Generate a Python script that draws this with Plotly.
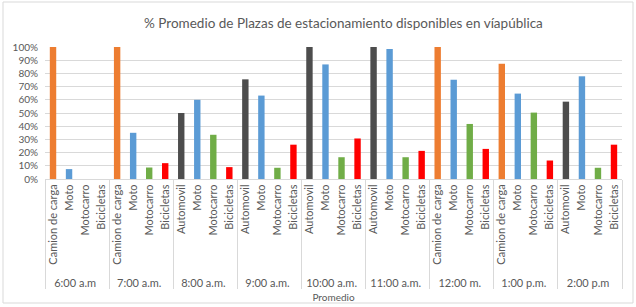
import plotly.graph_objects as go

times = ["6:00 a.m", "7:00 a.m.", "8:00 a.m.", "9:00 a.m.", "10:00 a.m.",
         "11:00 a.m.", "12:00 m.", "1:00 p.m.", "2:00 p.m"]

cats_6 = ["Camion de carga", "Moto", "Motocarro", "Bicicletas"]
cats_7 = ["Camion de carga", "Moto", "Motocarro", "Bicicletas"]
cats_8 = ["Automovil", "Moto", "Motocarro", "Bicicletas"]
cats_9 = ["Automovil", "Moto", "Motocarro", "Bicicletas"]
cats_10 = ["Automovil", "Moto", "Motocarro", "Bicicletas"]
cats_11 = ["Automovil", "Moto", "Motocarro", "Bicicletas"]
cats_12 = ["Camion de carga", "Moto", "Motocarro", "Bicicletas"]
cats_13 = ["Camion de carga", "Moto", "Motocarro", "Bicicletas"]
cats_14 = ["Automovil", "Moto", "Motocarro", "Bicicletas"]

vals_6 = [1.00, 0.075, 0.0, 0.0]
vals_7 = [1.00, 0.35, 0.087, 0.12]
vals_8 = [0.50, 0.60, 0.335, 0.09]
vals_9 = [0.755, 0.632, 0.085, 0.26]
vals_10 = [1.00, 0.868, 0.165, 0.307]
vals_11 = [1.00, 0.985, 0.165, 0.213]
vals_12 = [1.00, 0.752, 0.417, 0.228]
vals_13 = [0.873, 0.647, 0.503, 0.14]
vals_14 = [0.586, 0.778, 0.085, 0.26]

group_cats = [cats_6, cats_7, cats_8, cats_9, cats_10, cats_11, cats_12, cats_13, cats_14]
group_vals = [vals_6, vals_7, vals_8, vals_9, vals_10, vals_11, vals_12, vals_13, vals_14]

colors = {
    "Automovil": "#4d4d4d",
    "Camion de carga": "#ed7d31",
    "Moto": "#5b9bd5",
    "Motocarro": "#70ad47",
    "Bicicletas": "#ff0000",
}

# zero-width spaces keep each group's inner labels distinct so Plotly keeps
# the original within-group order (labels look identical)
x_outer, x_inner, y, bar_colors = [], [], [], []
for g, (t, cs, vs) in enumerate(zip(times, group_cats, group_vals)):
    for c, v in zip(cs, vs):
        x_outer.append(t)
        x_inner.append(c + "\u200b" * g)
        y.append(v)
        bar_colors.append(colors[c])

fig = go.Figure(go.Bar(
    x=[x_outer, x_inner], y=y,
    marker=dict(color=bar_colors, line=dict(width=0)),
    showlegend=False, hoverinfo="skip",
))

font_fam = "Lato, 'Open Sans', sans-serif"
fig.update_layout(
    width=636, height=307,
    margin=dict(l=45, r=14, t=47, b=128, autoexpand=False),
    paper_bgcolor="white", plot_bgcolor="white",
    bargap=0.6,
    font=dict(family=font_fam, color="#595959", size=10),
    title=dict(text="% Promedio de Plazas de estacionamiento disponibles en víapública",
               x=0.54, xanchor="center", y=0.925, yanchor="middle",
               font=dict(size=13.5, color="#595959", family=font_fam)),
    xaxis=dict(
        type="multicategory", tickangle=-90, automargin=False,
        tickfont=dict(size=11, color="#595959"),
        showline=True, linecolor="#d9d9d9", linewidth=1,
        showdividers=True, dividercolor="#d9d9d9", dividerwidth=1,
        ticks="",
        title=dict(text="Promedio", font=dict(size=10, color="#595959"), standoff=6),
    ),
    yaxis=dict(
        range=[0, 1.0], dtick=0.1, tickformat=".0%", automargin=False,
        showgrid=True, gridcolor="#d9d9d9", gridwidth=1,
        zeroline=False, ticks="", tickfont=dict(size=10, color="#595959"),
        ticklabelstandoff=6,
    ),
    shapes=[dict(type="rect", xref="paper", yref="paper",
                 x0=-42/577, x1=(633-45)/577, y0=(307-303-128)/132, y1=(307-2-128)/132,
                 line=dict(color="#d9d9d9", width=1), layer="below")],
)

fig.write_html("out.html", config={"displayModeBar": False},
               post_script="document.body.style.margin='0';")
